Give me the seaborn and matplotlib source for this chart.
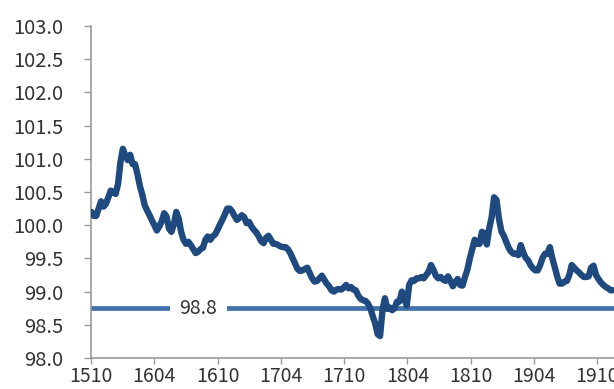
import numpy as np
import matplotlib
matplotlib.use("Agg")
import matplotlib.pyplot as plt
import seaborn as sns
import pandas as pd

# weekly readings (Fridays) starting 2015-10-02
start_date = "2015-10-02"
values = [
    100.20, 100.14, 100.14, 100.25, 100.36, 100.28, 100.32, 100.42, 100.52, 100.50,
    100.47, 100.62, 100.95, 101.15, 101.05, 100.98, 101.06, 100.92, 100.92, 100.77,
    100.59, 100.46, 100.30, 100.22, 100.15, 100.07, 100.00, 99.92, 99.98, 100.06,
    100.18, 100.13, 99.95, 99.90, 100.01, 100.20, 100.10, 99.90, 99.78, 99.72,
    99.75, 99.70, 99.64, 99.58, 99.60, 99.64, 99.66, 99.78, 99.83, 99.78,
    99.83, 99.86, 99.93, 100.01, 100.08, 100.16, 100.25, 100.25, 100.21, 100.14,
    100.08, 100.11, 100.15, 100.12, 100.03, 100.05, 99.98, 99.93, 99.89, 99.83,
    99.76, 99.73, 99.81, 99.84, 99.78, 99.72, 99.72, 99.70, 99.68, 99.67,
    99.67, 99.64, 99.58, 99.50, 99.42, 99.34, 99.31, 99.32, 99.34, 99.36,
    99.28, 99.20, 99.15, 99.16, 99.20, 99.24, 99.18, 99.12, 99.08, 99.02,
    99.00, 99.03, 99.04, 99.03, 99.06, 99.10, 99.05, 99.07, 99.03, 99.02,
    98.94, 98.89, 98.87, 98.86, 98.82, 98.75, 98.63, 98.52, 98.36, 98.33,
    98.72, 98.90, 98.74, 98.76, 98.72, 98.75, 98.85, 98.85, 99.00, 98.91,
    98.79, 99.10, 99.17, 99.16, 99.20, 99.20, 99.22, 99.20, 99.25, 99.30,
    99.40, 99.33, 99.24, 99.20, 99.22, 99.18, 99.16, 99.23, 99.16, 99.08,
    99.14, 99.19, 99.10, 99.09, 99.22, 99.33, 99.50, 99.64, 99.78, 99.72,
    99.72, 99.90, 99.88, 99.71, 99.95, 100.12, 100.42, 100.38, 100.10, 99.91,
    99.84, 99.75, 99.66, 99.60, 99.57, 99.57, 99.55, 99.70, 99.59, 99.51,
    99.47, 99.40, 99.35, 99.32, 99.32, 99.40, 99.51, 99.57, 99.57, 99.67,
    99.50, 99.37, 99.23, 99.12, 99.12, 99.15, 99.16, 99.25, 99.40, 99.36,
    99.32, 99.29, 99.25, 99.22, 99.22, 99.23, 99.36, 99.39, 99.25, 99.19,
    99.14, 99.10, 99.07, 99.05, 99.02, 99.02,
]
dates = pd.date_range(start_date, periods=len(values), freq="7D")

ref_level = 98.75
ref_label = "98.8"

tick_dates = ["2015-10-01", "2016-04-01", "2016-10-01", "2017-04-01", "2017-10-01",
              "2018-04-01", "2018-10-01", "2019-04-01", "2019-10-01"]
tick_labels = ["1510", "1604", "1610", "1704", "1710", "1804", "1810", "1904", "1910"]
y_ticks = [98.0, 98.5, 99.0, 99.5, 100.0, 100.5, 101.0, 101.5, 102.0, 102.5, 103.0]

sns.set_style("white")
plt.rcParams['font.family'] = ['Noto Sans CJK JP', 'DejaVu Sans']

df = pd.DataFrame({"date": dates, "value": values})

fig = plt.figure(figsize=(6.14, 3.89), dpi=100)
ax = fig.add_axes([91 / 614, 31 / 389, 523 / 614, 332 / 389])

# 基準線
ax.axhline(ref_level, color="#4170aa", lw=3.4, zorder=1)
ax.text(0.205, ref_level, ref_label, transform=ax.get_yaxis_transform(),
        ha="center", va="center", fontsize=14, color="#333333", zorder=2,
        bbox=dict(facecolor="white", edgecolor="none", pad=7))

sns.lineplot(data=df, x="date", y="value", ax=ax, color="#1f4a80", lw=4.6, zorder=3)

ax.set_xlim(pd.Timestamp("2015-10-01"), pd.Timestamp("2019-11-18"))
ax.set_ylim(98.0, 103.0)
ax.set_xticks(pd.to_datetime(tick_dates))
ax.set_xticklabels(tick_labels)
ax.set_yticks(y_ticks)
ax.set_yticklabels([f"{v:.1f}" for v in y_ticks])
ax.set_xlabel("")
ax.set_ylabel("")

for side in ["top", "right"]:
    ax.spines[side].set_visible(False)
for side in ["left", "bottom"]:
    ax.spines[side].set_color("#999999")
    ax.spines[side].set_linewidth(1.2)

ax.tick_params(axis="y", direction="out", length=5, width=1, color="#999999",
               labelsize=14.5, labelcolor="#333333", pad=15, left=True)
ax.tick_params(axis="x", direction="out", length=4, width=1, color="#999999",
               labelsize=14, labelcolor="#333333", pad=1.5, bottom=True)

fig.savefig("out.png", dpi=100)
plt.close(fig)
